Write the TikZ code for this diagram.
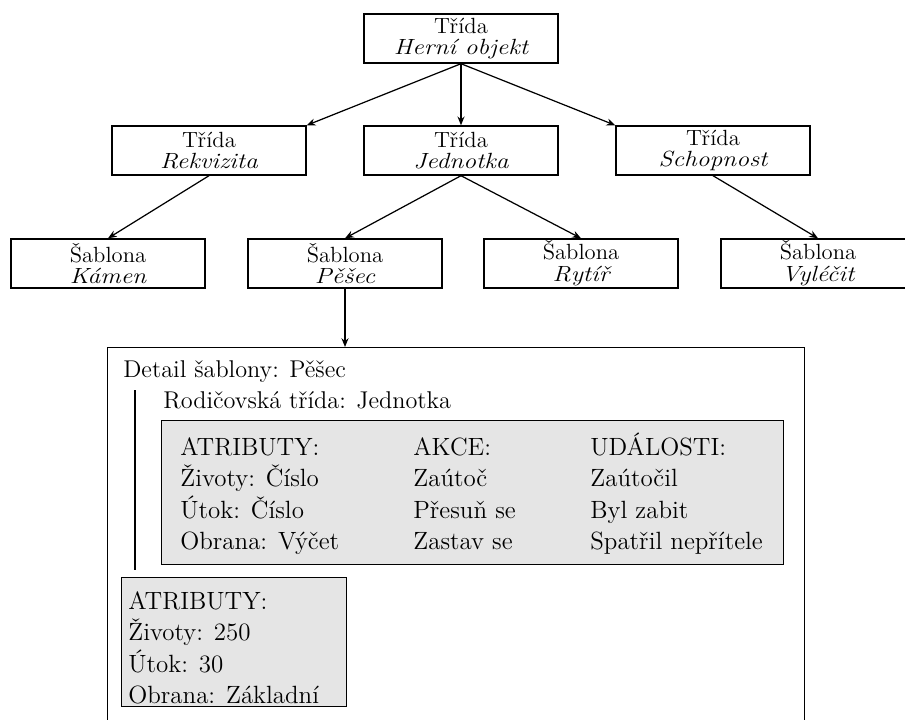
\documentclass[tikz,border=0pt]{standalone}
\usepackage{fontspec}
\newfontfamily\stromfont{Latin Modern Roman}[FakeStretch=1.03]
\newfontfamily\stromkurziva{Latin Modern Roman}[FakeStretch=1.16]
\newcommand{\kurziva}[1]{{\stromkurziva\itshape #1}}
\newcommand{\prvni}{\rule{0pt}{1.1em}}
\usetikzlibrary{positioning,arrows.meta,calc}

\begin{document}
\begin{tikzpicture}[x=0.2mm,y=-0.2mm,
  trida/.style={draw, line width=0.8pt, minimum width=3.88cm, minimum height=0.98cm,
    inner sep=0pt, align=center, font=\stromfont\fontsize{12.5}{12.3}\selectfont},
  sipka/.style={-{Stealth[length=5pt,width=4pt]}, line width=0.7pt},
  seda/.style={draw, line width=0.8pt, fill=black!10, inner sep=0pt, anchor=north west},
  popis/.style={inner sep=0pt, anchor=base west, font=\fontsize{13.8}{16}\selectfont},
  sloupec/.style={inner sep=0pt, anchor=north west, align=left,
    font=\fontsize{14.2}{17.9}\selectfont}]
\useasboundingbox (0,0) rectangle (905,720);
\clip (0,0) rectangle (905,720);

% hierarchie trid
\node[trida] (objekt) at (461,38.5) {Třída\\\kurziva{Herní objekt}};
\foreach \jmeno/\x/\text in {rekvizita/209/Rekvizita, jednotka/461/Jednotka, schopnost/713/Schopnost}
  \node[trida] (\jmeno) at (\x,150.5) {Třída\\\kurziva{\text}};
\foreach \jmeno/\x/\text in {kamen/108/Kámen, pesec/345/Pěšec, rytir/581/Rytíř, vylecit/818/Vyléčit}
  \node[trida] (\jmeno) at (\x,263.5) {Šablona\\\kurziva{\text}};

\draw[sipka] (objekt.south) -- (rekvizita.north east);
\draw[sipka] (objekt) -- (jednotka);
\draw[sipka] (objekt.south) -- (schopnost.north west);
\draw[sipka] (rekvizita.south) -- (kamen.north);
\draw[sipka] (jednotka.south) -- (pesec.north);
\draw[sipka] (jednotka.south) -- (rytir.north);
\draw[sipka] (schopnost.south) -- (vylecit.north);

% detail sablony
\node[draw, line width=0.8pt, anchor=north west, inner sep=0pt,
  minimum width=13.94cm, minimum height=8cm] (detail) at (107,347) {};
\draw[sipka] (pesec) -- (pesec |- detail.north);

\node[popis] (nadpis) at (123,377) {Detail šablony: Pěšec};
\node[popis] (rodic) at (163,408) {Rodičovská třída: Jednotka};
\draw[line width=0.8pt] (135,390) -- (135,570);

\node[seda, minimum width=12.44cm, minimum height=2.88cm] (zdedene) at (161,420) {};
\node[sloupec] (atributy) at (180,427.4) {\prvni ATRIBUTY:\\Životy: Číslo\\Útok: Číslo\\Obrana: Výčet};
\node[sloupec] (akce) at (413,427.4) {\prvni AKCE:\\Zaútoč\\Přesuň se\\Zastav se};
\node[sloupec] (udalosti) at (590,427.4) {\prvni UDÁLOSTI:\\Zaútočil\\Byl zabit\\Spatřil nepřítele};

\node[seda, minimum width=4.5cm, minimum height=2.58cm] (vlastni) at (121,577) {};
\node[sloupec] (hodnoty) at (128,581.4) {\prvni ATRIBUTY:\\Životy: 250\\Útok: 30\\Obrana: Základní};
\end{tikzpicture}
\end{document}
